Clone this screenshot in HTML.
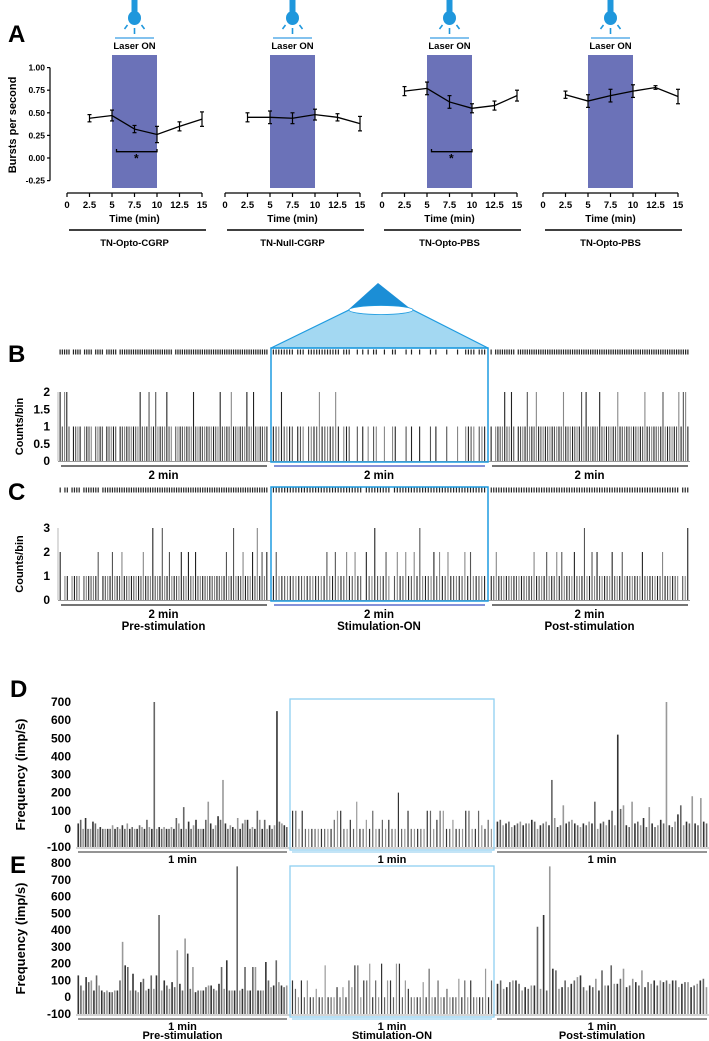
<!DOCTYPE html>
<html><head><meta charset="utf-8"><style>
html,body{margin:0;padding:0;background:#fff;}
svg{display:block;font-family:"Liberation Sans",sans-serif;}
</style></head><body>
<svg id="fig" width="709" height="1041" viewBox="0 0 709 1041" xmlns="http://www.w3.org/2000/svg">
<g id="panelA"></g>
<g id="panelBC"></g>
<g id="panelDE"></g>
</svg>
<script>
// ===== Panel A data =====
const aTimes = [2.5, 5, 7.5, 10, 12.5, 15];
const aGroups = ["TN-Opto-CGRP", "TN-Null-CGRP", "TN-Opto-PBS", "TN-Opto-PBS"];
const aMeans1 = [0.44, 0.47, 0.32, 0.26, 0.35, 0.43];
const aErr1 = [0.04, 0.06, 0.04, 0.09, 0.05, 0.08];
const aMeans2 = [0.45, 0.45, 0.44, 0.48, 0.45, 0.38];
const aErr2 = [0.05, 0.07, 0.06, 0.06, 0.04, 0.08];
const aMeans3 = [0.74, 0.77, 0.62, 0.55, 0.58, 0.69];
const aErr3 = [0.05, 0.07, 0.07, 0.05, 0.05, 0.06];
const aMeans4 = [0.70, 0.63, 0.69, 0.74, 0.78, 0.68];
const aErr4 = [0.04, 0.07, 0.07, 0.07, 0.02, 0.08];
const aYTicks = ["1.00", "0.75", "0.50", "0.25", "0.00", "-0.25"];
const aXTicks = ["0", "2.5", "5", "7.5", "10", "12.5", "15"];
const aSig = [true, false, true, false];

// ===== Panel B/C data (counts per bin, per segment) =====
const bPre  = "2122101111011110111101111101111111112111211211112110111111112111111111112111121111112112111111";
const bStim = "1112111101110111121111121011100101010110010011000101001000101000100010011110111";
const bPost = "1011112112101111211121111111111121111111212111112111111121111111111121111111211111121221";
const cPre  = "2011011110111111201111211121111111121113111311211112112112111111111111211311121112131212";
const cStim = "1211111111111111111211211121121102113111210121121121311112121121111121211111";
const cPost = "1121111111111111121111211121211112111311212111112111211111112111111121111110113";

// ===== Panel D/E data (imp/s) =====
const dPre = [30,50,0,60,0,0,40,30,0,10,0,0,0,0,20,0,10,0,20,0,30,0,10,0,0,20,10,0,50,10,0,700,0,10,0,10,0,0,10,0,60,30,0,120,0,40,0,20,50,0,0,0,50,150,30,0,20,70,50,270,30,0,20,10,0,60,0,30,50,50,0,10,0,100,50,0,50,0,20,0,20,650,40,30,20,10];
const dStim = [100,100,0,100,0,0,0,0,0,0,0,0,0,50,100,100,0,0,50,0,150,0,0,50,0,100,0,0,50,0,50,0,0,200,0,0,100,0,0,0,0,0,100,100,0,50,100,100,0,0,50,0,0,0,100,100,0,0,100,20,0,50,0];
const dPost = [40,50,20,30,40,10,20,30,40,20,30,30,50,40,0,20,30,40,20,270,60,10,20,130,30,40,50,30,20,10,30,20,40,30,150,0,30,40,20,50,100,20,520,110,130,20,10,150,30,40,20,60,10,120,30,10,20,50,30,700,20,10,40,80,130,20,40,30,180,30,20,170,40,30];
const ePre = [130,70,40,120,90,100,40,130,70,40,30,40,30,30,40,40,100,330,190,180,40,140,40,30,90,110,40,50,130,50,130,490,40,100,70,50,90,60,280,80,40,350,260,50,180,30,40,40,40,60,70,70,50,40,80,180,50,220,40,40,40,780,40,50,180,40,40,180,180,40,40,40,210,100,60,70,220,90,70,60,70];
const eStim = [100,50,0,100,0,100,0,0,50,0,0,190,0,0,0,60,0,60,0,100,60,190,190,0,100,100,200,0,100,0,200,0,100,100,0,200,200,0,100,50,0,0,0,0,90,0,170,0,0,100,0,0,50,0,0,0,110,0,100,0,100,0,0,0,0,170,0,100];
const ePost = [80,100,50,60,90,100,100,80,40,60,50,70,70,420,50,490,40,780,170,160,50,60,100,60,80,100,120,130,60,40,70,60,110,40,160,70,70,190,80,80,110,170,60,70,110,90,70,160,60,90,80,100,70,100,90,100,80,100,100,60,80,90,90,60,70,80,100,110,60];

const NS = "http://www.w3.org/2000/svg";
function mk(parent, tag, attrs, text) {
  const el = document.createElementNS(NS, tag);
  for (const k in attrs) el.setAttribute(k, attrs[k]);
  if (text !== undefined) el.textContent = text;
  parent.appendChild(el);
  return el;
}

// ---------- Panel A ----------
(function () {
  const g = document.getElementById('panelA');
  const lbl = mk(g, 'text', {x: 8, y: 42, 'font-size': 24, 'font-weight': 'bold'}, 'A');
  
  
  const yl = mk(g, 'text', {x: 0, y: 0, transform: 'translate(16,125) rotate(-90)', 'text-anchor': 'middle', 'font-size': 11, 'font-weight': 'bold'}, 'Bursts  per second');
  
  
  const y = v => 158 - v * 90.4;
  const ya = mk(g, 'g', {});
  
  
  mk(ya, 'line', {x1: 50, y1: y(1), x2: 50, y2: y(-0.25), stroke: '#000', 'stroke-width': 1.2});
  aYTicks.forEach(t => {
    const v = parseFloat(t);
    mk(ya, 'line', {x1: 47, y1: y(v), x2: 50, y2: y(v), stroke: '#000', 'stroke-width': 1.2});
    mk(ya, 'text', {x: 45, y: y(v) + 3, 'text-anchor': 'end', 'font-size': 8.5, 'font-weight': 'bold'}, t);
  });
  const origins = [67, 225, 382, 543];
  const means = [aMeans1, aMeans2, aMeans3, aMeans4];
  const errs = [aErr1, aErr2, aErr3, aErr4];
  const sc = 9.0;
  origins.forEach((x0, gi) => {
    const x = t => x0 + t * sc;
    const cg = mk(g, 'g', {});
    
    
    const rect = mk(cg, 'rect', {x: x(5), y: 55, width: x(10) - x(5), height: 133, fill: '#6b72b8'});
    
    
    const cx = x(7.5);
    const icon = mk(cg, 'g', {fill: '#1f97dc', stroke: '#1f97dc'});
    
    
    mk(icon, 'rect', {x: cx - 3, y: 0, width: 6, height: 12, stroke: 'none'});
    mk(icon, 'ellipse', {cx: cx, cy: 18, rx: 6.5, ry: 7, stroke: 'none'});
    mk(icon, 'line', {x1: cx, y1: 28, x2: cx, y2: 34, 'stroke-width': 1.6});
    mk(icon, 'line', {x1: cx - 7, y1: 25, x2: cx - 10, y2: 29, 'stroke-width': 1.6});
    mk(icon, 'line', {x1: cx + 7, y1: 25, x2: cx + 10, y2: 29, 'stroke-width': 1.6});
    mk(cg, 'line', {x1: x(5) + 3, y1: 38, x2: x(10) - 3, y2: 38, stroke: '#5aaee8', 'stroke-width': 1.5});
    const lt = mk(cg, 'text', {x: cx, y: 49, 'text-anchor': 'middle', 'font-size': 9.5, 'font-weight': 'bold'}, 'Laser ON');
    
    
    mk(cg, 'line', {x1: x(0), y1: 193, x2: x(15), y2: 193, stroke: '#000', 'stroke-width': 1.2});
    aXTicks.forEach(t => {
      const v = parseFloat(t);
      mk(cg, 'line', {x1: x(v), y1: 193, x2: x(v), y2: 197, stroke: '#000', 'stroke-width': 1.2});
      mk(cg, 'text', {x: x(v), y: 208, 'text-anchor': 'middle', 'font-size': 9.5, 'font-weight': 'bold'}, t);
    });
    mk(cg, 'text', {x: x(7.5), y: 222, 'text-anchor': 'middle', 'font-size': 10, 'font-weight': 'bold'}, 'Time (min)');
    mk(cg, 'line', {x1: x(0) + 2, y1: 230, x2: x(15) + 4, y2: 230, stroke: '#000', 'stroke-width': 1.6});
    const gl = mk(cg, 'text', {x: x(7.5), y: 246, 'text-anchor': 'middle', 'font-size': 9.5, 'font-weight': 'bold'}, aGroups[gi]);
    
    
    const m = means[gi], e = errs[gi];
    const pts = aTimes.map((t, i) => x(t) + ',' + y(m[i])).join(' ');
    const pl = mk(cg, 'polyline', {points: pts, fill: 'none', stroke: '#000', 'stroke-width': 1.3});
    
    
    aTimes.forEach((t, i) => {
      const eb = mk(cg, 'g', {stroke: '#000', 'stroke-width': 1.2});
      
      
      mk(eb, 'line', {x1: x(t), y1: y(m[i] + e[i]), x2: x(t), y2: y(m[i] - e[i])});
      mk(eb, 'line', {x1: x(t) - 2, y1: y(m[i] + e[i]), x2: x(t) + 2, y2: y(m[i] + e[i])});
      mk(eb, 'line', {x1: x(t) - 2, y1: y(m[i] - e[i]), x2: x(t) + 2, y2: y(m[i] - e[i])});
    });
    if (aSig[gi]) {
      const sg = mk(cg, 'g', {});
      
      
      mk(sg, 'polyline', {points: `${x(5.5)},${y(0.1)} ${x(5.5)},${y(0.07)} ${x(10)},${y(0.07)} ${x(10)},${y(0.1)}`, fill: 'none', stroke: '#000', 'stroke-width': 1.3});
      mk(sg, 'text', {x: x(7.7), y: y(-0.05), 'text-anchor': 'middle', 'font-size': 12, 'font-weight': 'bold'}, '*');
    }
  });
})();

// ---------- Panels B & C ----------
(function () {
  const g = document.getElementById('panelBC');
  const segs = [[59, 268], [272, 486], [490, 689]];
  function hist(cfg) {
    const hg = mk(g, 'g', {});
    
    
    const y = v => cfg.y0 - v * (cfg.y0 - cfg.yTop) / cfg.max;
    mk(hg, 'line', {x1: 58, y1: y(cfg.max), x2: 58, y2: cfg.y0, stroke: '#888', 'stroke-width': 0.6});
    cfg.ticks.forEach(t => {
      mk(hg, 'text', {x: 50, y: y(t) + 4, 'text-anchor': 'end', 'font-size': 12, 'font-weight': 'bold'}, String(t));
    });
    const at = mk(hg, 'text', {x: 0, y: 0, transform: `translate(23,${(cfg.y0 + y(cfg.max)) / 2}) rotate(-90)`, 'text-anchor': 'middle', 'font-size': 11, 'font-weight': 'bold'}, 'Counts/bin');
    
    
    mk(hg, 'line', {x1: 58, y1: cfg.y0 + 0.5, x2: 690, y2: cfg.y0 + 0.5, stroke: '#999', 'stroke-width': 1});
    cfg.data.forEach((str, si) => {
      const [a, b] = segs[si];
      const n = str.length, w = (b - a) / n;
      for (let i = 0; i < n; i++) {
        const v = +str[i];
        if (v <= 0) continue;
        const xx = a + (i + 0.5) * w;
        const col = (i % 3 === 0) ? '#222' : (i % 3 === 1 ? '#555' : '#888');
        const bar = mk(hg, 'line', {x1: xx, y1: cfg.y0, x2: xx, y2: y(v), stroke: col, 'stroke-width': 1.1});
        
        
        const tick = mk(hg, 'line', {x1: xx, y1: cfg.ry - 2.5, x2: xx, y2: cfg.ry + 2.5, stroke: '#222', 'stroke-width': 1.2});
        
        
      }
    });
    segs.forEach(([a, b], si) => {
      mk(hg, 'line', {x1: a + 2, y1: cfg.uy, x2: b - 1, y2: cfg.uy, stroke: si === 1 ? '#3a4fc0' : '#222', 'stroke-width': 1.3});
      mk(hg, 'text', {x: (a + b) / 2, y: cfg.uy + 13, 'text-anchor': 'middle', 'font-size': 11.5, 'font-weight': 'bold'}, '2 min');
      if (cfg.sub) mk(hg, 'text', {x: (a + b) / 2, y: cfg.uy + 25, 'text-anchor': 'middle', 'font-size': 11.5, 'font-weight': 'bold'}, cfg.sub[si]);
    });
    const box = mk(hg, 'rect', {x: 271, y: cfg.boxTop, width: 217, height: cfg.y0 + 1 - cfg.boxTop, fill: 'none', stroke: '#1e9be0', 'stroke-width': 1.5});
    
    
  }
  const cone = mk(g, 'g', {});
  
  
  mk(cone, 'polygon', {points: '271,348 349,310 413,310 488,348', fill: '#a3d8f2', stroke: '#1e9be0', 'stroke-width': 1.2});
  mk(cone, 'polygon', {points: '378,283 348,310 412,310', fill: '#1b8ed6'});
  mk(cone, 'ellipse', {cx: 381, cy: 310, rx: 32, ry: 4.5, fill: '#fff', stroke: '#1e9be0', 'stroke-width': 0.8});
  const lb = mk(g, 'text', {x: 8, y: 362, 'font-size': 24, 'font-weight': 'bold'}, 'B');
  
  
  const lc = mk(g, 'text', {x: 8, y: 500, 'font-size': 24, 'font-weight': 'bold'}, 'C');
  
  
  hist({name: 'panel-b-histogram', y0: 461, yTop: 392, max: 2, ticks: [0, 0.5, 1, 1.5, 2], data: [bPre, bStim, bPost], ry: 352, uy: 466, boxTop: 348});
  hist({name: 'panel-c-histogram', y0: 600, yTop: 528, max: 3, ticks: [0, 1, 2, 3], data: [cPre, cStim, cPost], ry: 490, uy: 605, boxTop: 487, sub: ['Pre-stimulation', 'Stimulation-ON', 'Post-stimulation']});
})();

// ---------- Panels D & E ----------
(function () {
  const g = document.getElementById('panelDE');
  const segs = [[77, 288], [291, 493], [496, 708]];
  function freq(cfg) {
    const hg = mk(g, 'g', {});
    
    
    const y = v => cfg.yBot - (v + 100) * (cfg.yBot - cfg.yTop) / (cfg.max + 100);
    cfg.ticks.forEach(t => {
      mk(hg, 'text', {x: 71, y: y(t) + 4, 'text-anchor': 'end', 'font-size': 12, 'font-weight': 'bold'}, String(t));
    });
    const at = mk(hg, 'text', {x: 0, y: 0, transform: `translate(25,${(cfg.yBot + cfg.yTop) / 2}) rotate(-90)`, 'text-anchor': 'middle', 'font-size': 13, 'font-weight': 'bold'}, 'Frequency (imp/s)');
    
    
    mk(hg, 'line', {x1: 76, y1: cfg.yBot + 1, x2: 709, y2: cfg.yBot + 1, stroke: '#aaa', 'stroke-width': 1});
    cfg.data.forEach((arr, si) => {
      const [a, b] = segs[si];
      const n = arr.length, w = (b - a) / n;
      arr.forEach((v, i) => {
        const xx = a + (i + 0.5) * w;
        const col = (i % 3 === 0) ? '#333' : (i % 3 === 1 ? '#666' : '#999');
        const bar = mk(hg, 'line', {x1: xx, y1: cfg.yBot, x2: xx, y2: y(v), stroke: col, 'stroke-width': si === 1 ? 1.2 : 1.6});
        
        
      });
    });
    segs.forEach(([a, b], si) => {
      mk(hg, 'line', {x1: a + 1, y1: cfg.yBot + 5, x2: b - 1, y2: cfg.yBot + 5, stroke: si === 1 ? '#9fd3f0' : '#555', 'stroke-width': 1.3});
      mk(hg, 'text', {x: (a + b) / 2, y: cfg.yBot + 16, 'text-anchor': 'middle', 'font-size': 11, 'font-weight': 'bold'}, '1 min');
      if (cfg.sub) mk(hg, 'text', {x: (a + b) / 2, y: cfg.yBot + 25, 'text-anchor': 'middle', 'font-size': 11, 'font-weight': 'bold'}, cfg.sub[si]);
    });
    const box = mk(hg, 'rect', {x: 290, y: cfg.boxTop, width: 204, height: cfg.yBot + 3 - cfg.boxTop, fill: 'none', stroke: '#8fd0f0', 'stroke-width': 1.3});
    
    
  }
  const ld = mk(g, 'text', {x: 10, y: 697, 'font-size': 24, 'font-weight': 'bold'}, 'D');
  
  
  const le = mk(g, 'text', {x: 10, y: 873, 'font-size': 24, 'font-weight': 'bold'}, 'E');
  
  
  freq({name: 'panel-d-chart', yBot: 847, yTop: 702, max: 700, ticks: [-100, 0, 100, 200, 300, 400, 500, 600, 700], data: [dPre, dStim, dPost], boxTop: 699});
  freq({name: 'panel-e-chart', yBot: 1014, yTop: 863, max: 800, ticks: [-100, 0, 100, 200, 300, 400, 500, 600, 700, 800], data: [ePre, eStim, ePost], boxTop: 866, sub: ['Pre-stimulation', 'Stimulation-ON', 'Post-stimulation']});
})();
</script>
</body></html>
